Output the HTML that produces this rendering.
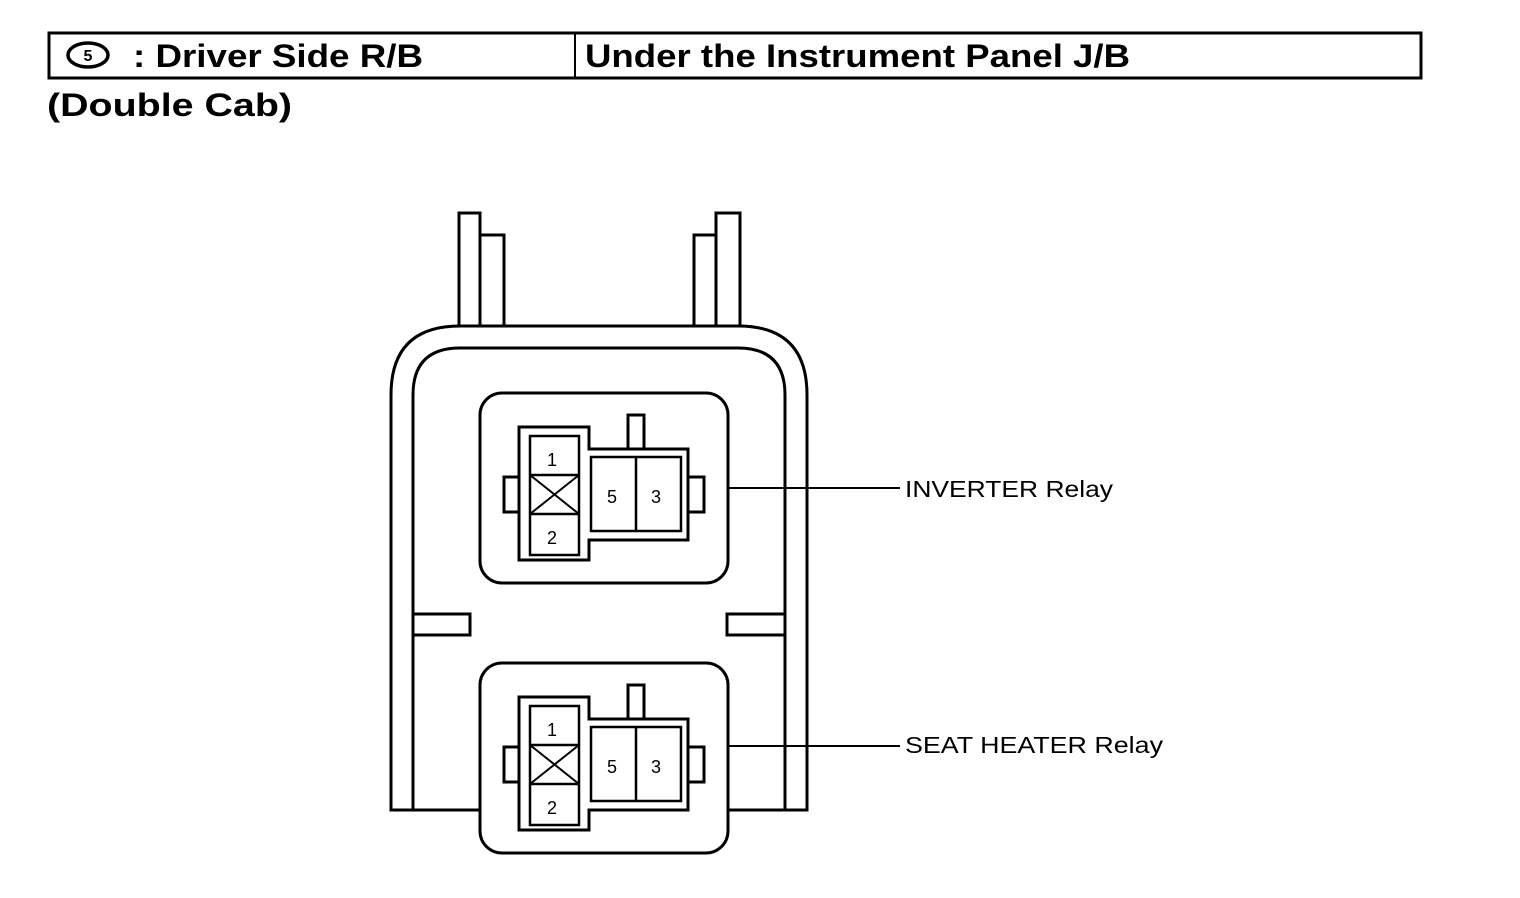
<!DOCTYPE html>
<html><head><style>
body{margin:0;background:#fff;width:1520px;height:898px;overflow:hidden}
svg{position:absolute;left:0;top:0}
text{font-family:"Liberation Sans",Arial,sans-serif}
</style></head><body>
<svg width="1520" height="898" viewBox="0 0 1520 898">
<g fill="none" stroke="#000">
<rect x="49" y="33" width="1372" height="45" stroke-width="3"/>
<line x1="575" y1="33" x2="575" y2="78" stroke-width="2"/>
<ellipse cx="88" cy="55" rx="20" ry="12" stroke-width="3.5"/>
</g>
<text x="88" y="61" font-size="16" font-weight="bold" text-anchor="middle" font-family="Liberation Serif">5</text>
<text x="133" y="67" font-size="32" font-weight="bold" textLength="290" lengthAdjust="spacingAndGlyphs">: Driver Side R/B</text>
<text x="585" y="67" font-size="32" font-weight="bold" textLength="545" lengthAdjust="spacingAndGlyphs">Under the Instrument Panel J/B</text>
<text x="47" y="116" font-size="32" font-weight="bold" textLength="245" lengthAdjust="spacingAndGlyphs">(Double Cab)</text>

<g fill="none" stroke="#000" stroke-width="3" stroke-linejoin="miter">
<polyline points="459,326 459,213 480,213 480,326"/>
<polyline points="480,235 504,235 504,326"/>
<polyline points="740,326 740,213 716,213 716,326"/>
<polyline points="716,235 694,235 694,326"/>
<path d="M391,810 L391,395 Q391,326 460,326 L738,326 Q807,326 807,395 L807,810 Z"/>
<path d="M413,810 L413,395 Q413,348 460,348 L738,348 Q785,348 785,395 L785,810"/>
<rect x="413" y="614" width="57" height="21"/>
<rect x="727" y="614" width="58" height="21"/>
</g>

<g id="relay">
<rect x="480" y="393" width="248" height="190" rx="22" fill="#fff" stroke="#000" stroke-width="3"/>
<g fill="none" stroke="#000" stroke-width="3">
<rect x="628" y="415" width="16" height="34" fill="#fff"/>
<path d="M519,427 L589,427 L589,449 L688,449 L688,540 L589,540 L589,560 L519,560 Z" fill="#fff"/>
<rect x="504" y="477" width="15" height="35"/>
<rect x="688" y="477" width="16" height="35"/>
<rect x="530" y="436" width="49" height="119" stroke-width="2.5"/>
<line x1="530" y1="475" x2="579" y2="475" stroke-width="2.5"/>
<line x1="530" y1="514" x2="579" y2="514" stroke-width="2.5"/>
<line x1="530" y1="475" x2="579" y2="514" stroke-width="2"/>
<line x1="579" y1="475" x2="530" y2="514" stroke-width="2"/>
<rect x="591" y="457" width="90" height="74" stroke-width="2.5"/>
<line x1="636" y1="457" x2="636" y2="531" stroke-width="2.5"/>
</g>
<text x="552" y="466" font-size="18" text-anchor="middle">1</text>
<text x="552" y="544" font-size="18" text-anchor="middle">2</text>
<text x="612" y="503" font-size="18" text-anchor="middle">5</text>
<text x="656" y="503" font-size="18" text-anchor="middle">3</text>
</g>
<use href="#relay" transform="translate(0,270)"/>

<g stroke="#000" stroke-width="2">
<line x1="729" y1="488" x2="900" y2="488"/>
<line x1="729" y1="746" x2="900" y2="746"/>
</g>
<text x="905" y="497" font-size="23" textLength="208" lengthAdjust="spacingAndGlyphs">INVERTER Relay</text>
<text x="905" y="753" font-size="23" textLength="258" lengthAdjust="spacingAndGlyphs">SEAT HEATER Relay</text>
</svg>
</body></html>
